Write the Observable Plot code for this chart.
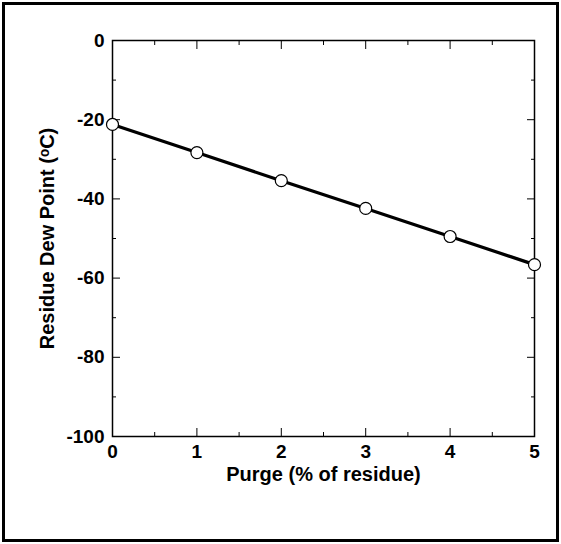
<!DOCTYPE html>
<html><head><meta charset="utf-8">
<script src="https://cdn.jsdelivr.net/npm/d3@7"></script>
<script src="https://cdn.jsdelivr.net/npm/@observablehq/plot@0.6"></script>
<style>
html,body{margin:0;padding:0;background:#fff;}
#frame{position:absolute;left:2px;top:2px;width:557px;height:540px;border:3px solid #000;box-sizing:border-box;}
#chart{position:absolute;left:0;top:0;}
</style></head><body>
<div id="frame"></div><div id="chart"></div>
<script>
const purge = [0, 1, 2, 3, 4, 5];
const dewPoint = [-21.2, -28.3, -35.4, -42.4, -49.5, -56.6];
const xMajor = [0, 1, 2, 3, 4, 5];
const xMinor = [0.5, 1.5, 2.5, 3.5, 4.5];
const yMajor = [0, -20, -40, -60, -80, -100];
const yMinor = [-10, -30, -50, -70, -90];
const xTitle = "Purge (% of residue)";
const yTitle = "Residue Dew Point (\u1D52C)";

const data = purge.map((x, i) => ({x, y: dewPoint[i]}));
const font = "'Liberation Sans', Arial, Helvetica, sans-serif";
const none = () => "";
const plain = d => String(d);

const plot = Plot.plot({
  width: 561, height: 544,
  marginLeft: 112, marginTop: 40, marginRight: 27, marginBottom: 108,
  x: {domain: [0, 5]},
  y: {domain: [-100, 0]},
  style: {fontFamily: font, background: "transparent", color: "#000"},
  marks: [
    Plot.frame({stroke: "#000", strokeWidth: 1.5}),
    Plot.axisX(xMajor, {anchor: "bottom", tickSize: -8, tickPadding: 16, tickFormat: plain, fontSize: 19, fontWeight: "bold",
      label: xTitle, labelAnchor: "center", labelOffset: 44, labelArrow: "none"}),
    Plot.axisX(xMinor, {anchor: "bottom", tickSize: -4, tickFormat: none, label: null}),
    Plot.axisX(xMajor, {anchor: "top", tickSize: -8, tickFormat: none, label: null}),
    Plot.axisX(xMinor, {anchor: "top", tickSize: -4, tickFormat: none, label: null}),
    Plot.axisY(yMajor, {anchor: "left", tickSize: -8, tickPadding: 16, tickFormat: plain, fontSize: 19, fontWeight: "bold",
      label: yTitle, labelAnchor: "center", labelOffset: 73, labelArrow: "none"}),
    Plot.axisY(yMinor, {anchor: "left", tickSize: -4, tickFormat: none, label: null}),
    Plot.axisY(yMajor, {anchor: "right", tickSize: -8, tickFormat: none, label: null}),
    Plot.axisY(yMinor, {anchor: "right", tickSize: -4, tickFormat: none, label: null}),
    Plot.line(data, {x: "x", y: "y", stroke: "#000", strokeWidth: 3.2}),
    Plot.dot(data, {x: "x", y: "y", r: 6, fill: "#fff", stroke: "#000", strokeWidth: 1.2})
  ]
});
plot.querySelectorAll("text").forEach(t => { t.style.fontWeight = "bold"; });
plot.querySelectorAll("[aria-label='x-axis label'], [aria-label='y-axis label']").forEach(g => g.setAttribute("font-size", 20));
document.getElementById("chart").appendChild(plot);
</script>
</body></html>
